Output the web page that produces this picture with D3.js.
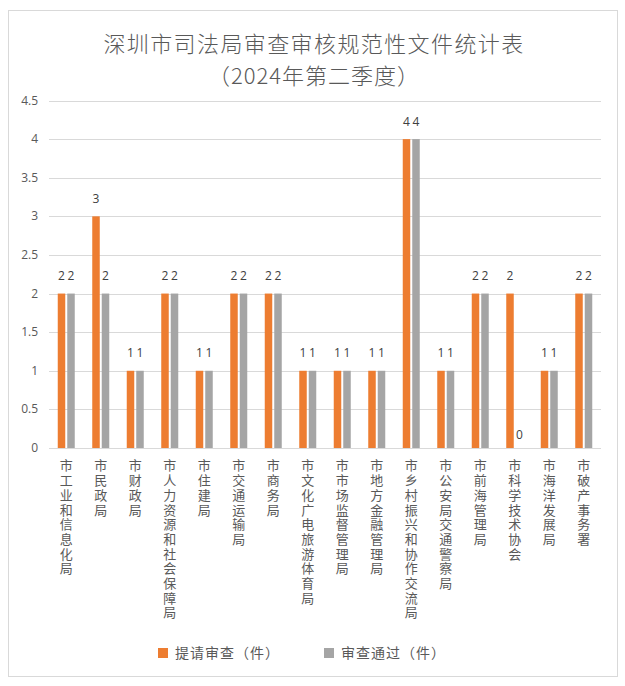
<!DOCTYPE html>
<html><head><meta charset="utf-8">
<script src="https://cdn.jsdelivr.net/npm/d3@7"></script>
<style>html,body{margin:0;padding:0;background:#fff;}svg{display:block;}</style>
</head><body>
<script>
const categories = ["市工业和信息化局","市民政局","市财政局","市人力资源和社会保障局","市住建局","市交通运输局","市商务局","市文化广电旅游体育局","市市场监督管理局","市地方金融管理局","市乡村振兴和协作交流局","市公安局交通警察局","市前海管理局","市科学技术协会","市海洋发展局","市破产事务署"];
const submitted = [2,3,1,2,1,2,2,1,1,1,4,1,2,2,1,2];
const approved  = [2,2,1,2,1,2,2,1,1,1,4,1,2,0,1,2];
const seriesNames = ["提请审查（件）","审查通过（件）"];
const seriesColors = ["#ED7D31","#A5A5A5"];
const yTicks = [0,0.5,1,1.5,2,2.5,3,3.5,4,4.5];
const titleLines = ["深圳市司法局审查审核规范性文件统计表","（2024年第二季度）"];

const W = 625, H = 686;
const cjk = "'Noto Sans CJK SC','Noto Sans',sans-serif";
const svg = d3.select("body").append("svg").attr("width", W).attr("height", H);

svg.append("rect").attr("x",8.5).attr("y",10.5).attr("width",609).attr("height",666)
  .attr("fill","#fff").attr("stroke","#d9d9d9");

svg.selectAll("text.title").data(titleLines).join("text")
  .attr("x", 314).attr("y", (d,i)=> 52 + i*32)
  .attr("text-anchor","middle").attr("fill","#595959")
  .style("font-family", cjk).style("font-size","22px").style("font-weight","300")
  .style("letter-spacing", (d,i)=> i===0 ? "1.4px" : "1px")
  .text(d=>d);

const x0 = d3.scaleBand().domain(categories).range([49, 601]);
const y = d3.scaleLinear().domain([0, 4.5]).range([448, 100.5]);
const bw = 7.5, gap = 2;

svg.append("g").selectAll("line").data(yTicks).join("line")
  .attr("x1",49).attr("x2",601)
  .attr("y1",d=>Math.round(y(d))+0.5).attr("y2",d=>Math.round(y(d))+0.5)
  .attr("stroke","#d9d9d9").attr("stroke-width",1);

svg.append("g").selectAll("text").data(yTicks).join("text")
  .attr("x",38).attr("y",d=>y(d)+4).attr("text-anchor","end")
  .attr("fill","#595959").style("font-family","'Open Sans','Noto Sans',sans-serif").style("font-size","12px")
  .text(d=>d);

const series = [submitted, approved];
series.forEach((vals, s) => {
  const g = svg.append("g");
  const bx = (i) => x0(categories[i]) + x0.bandwidth()/2 + (s===0 ? -(bw+gap/2) : gap/2);
  g.selectAll("rect").data(vals).join("rect")
    .attr("x",(d,i)=>bx(i)).attr("width",bw)
    .attr("y",d=>y(d)).attr("height",d=>y(0)-y(d))
    .attr("fill",seriesColors[s]);
  g.selectAll("text").data(vals).join("text")
    .attr("x",(d,i)=>bx(i)+bw/2).attr("y",d=>y(d) - (d===0 ? 9 : 13.5))
    .attr("text-anchor","middle").attr("fill","#404040")
    .style("font-family","'Open Sans','Noto Sans',sans-serif").style("font-size","12px")
    .text(d=>d);
});

svg.append("g").selectAll("text").data(categories).join("text")
  .attr("x", d => x0(d) + x0.bandwidth()/2).attr("y", 459)
  .attr("fill","#595959")
  .style("font-family",cjk).style("font-size","13px")
  .style("writing-mode","vertical-rl").style("text-orientation","upright")
  .style("letter-spacing","1.7px")
  .text(d=>d);

const lg = svg.append("g");
const legX = [158, 324];
seriesNames.forEach((n, i) => {
  lg.append("rect").attr("x",legX[i]).attr("y",648).attr("width",10).attr("height",10).attr("fill",seriesColors[i]);
  lg.append("text").attr("x",legX[i]+17).attr("y",658).attr("fill","#595959")
    .style("font-family",cjk).style("font-size","14px").style("letter-spacing","1px").text(n);
});
</script>
</body></html>
